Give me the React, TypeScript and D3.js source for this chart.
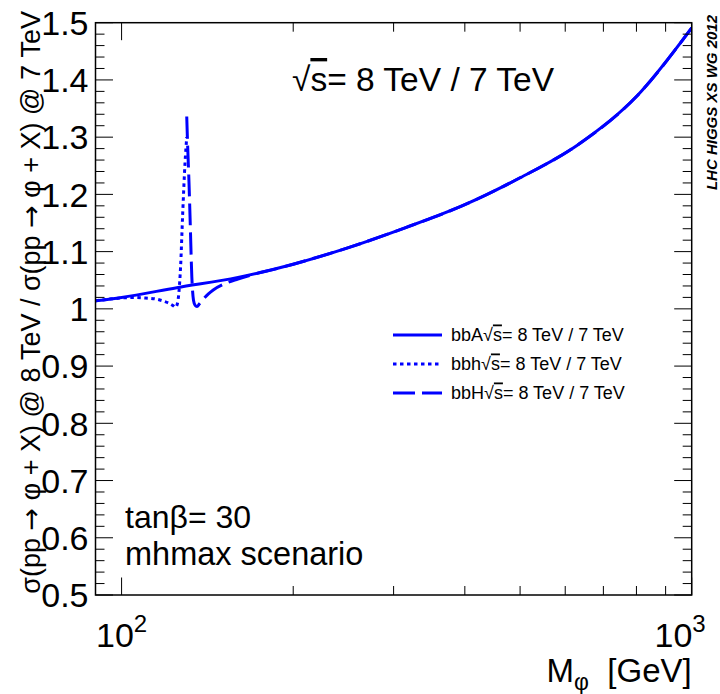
import React from "react";
import * as d3 from "d3";

// bbA (solid)
const massA = [90, 100, 125, 160, 200, 250, 315, 400, 500, 630, 800, 1000];
const ratioA = [1.014, 1.020, 1.037, 1.055, 1.078, 1.107, 1.142, 1.182, 1.229, 1.286, 1.371, 1.491];

// bbh (dotted)
const massh = [90, 95, 100, 105, 110, 115, 118, 121, 123, 124.3, 125.2, 126, 126.9, 128, 129.2, 130.1];
const ratioh = [1.014, 1.017, 1.019, 1.020, 1.019, 1.017, 1.014, 1.010, 1.006, 1.003, 1.008, 1.027, 1.073, 1.167, 1.255, 1.300];

// bbH (dashed)
const massH = [130.1, 130.6, 131.3, 131.9, 132.8, 133.7, 134.6, 135.6, 137, 139.4, 142, 144.8, 151, 160, 171.5, 185, 200, 250, 315, 400, 500, 630, 800, 1000];
const ratioH = [1.336, 1.283, 1.22, 1.155, 1.056, 1.015, 1.006, 1.004, 1.009, 1.018, 1.026, 1.033, 1.043, 1.052, 1.061, 1.069, 1.078, 1.107, 1.142, 1.182, 1.229, 1.286, 1.371, 1.491];

const yTickLabels = ["0.5", "0.6", "0.7", "0.8", "0.9", "1", "1.1", "1.2", "1.3", "1.4", "1.5"];
const xMajorTicks = [100, 1000];
const xMajorExp = ["2", "3"];
const xMinorTicks = [200, 300, 400, 500, 600, 700, 800, 900];

const legendNames = ["bbA", "bbh", "bbH"];

const W = 720;
const H = 694;
const L = 95.5, R = 691.7, T = 22.7, B = 595;
const FONT = "'Liberation Sans', Arial, Helvetica, sans-serif";
const SYM = "'DejaVu Sans', sans-serif";
const BLUE = "#0000ff";

export default function App() {
  const x = d3.scaleLog().domain([90, 1000]).range([L, R]);
  const y = d3.scaleLinear().domain([0.5, 1.5]).range([B, T]);

  const line = d3
    .line<[number, number]>()
    .x((d) => x(d[0]))
    .y((d) => y(d[1]))
    .curve(d3.curveMonotoneX);

  const series = [
    { name: legendNames[0], m: massA, r: ratioA, dash: "none" },
    { name: legendNames[1], m: massh, r: ratioh, dash: "3.5 3.5" },
    { name: legendNames[2], m: massH, r: ratioH, dash: "22 7" },
  ];

  const yMajor = d3.range(0, 11).map((i) => 0.5 + i * 0.1);
  const yMinor = d3.range(0, 51).map((i) => 0.5 + i * 0.02).filter((v, i) => i % 5 !== 0);

  const majLen = 17.5;
  const minLen = 9;

  return (
    <svg width={W} height={H} style={{ position: "absolute", left: 0, top: 0, background: "#fff" }} fontFamily={FONT}>
      <rect x={0} y={0} width={W} height={H} fill="#fff" />
      <defs>
        <clipPath id="plotclip">
          <rect x={L} y={T} width={R - L} height={B - T} />
        </clipPath>
      </defs>

      {/* curves */}
      <g clipPath="url(#plotclip)">
        {series.map((s) => (
          <path
            key={s.name}
            d={line(s.m.map((m, i) => [m, s.r[i]] as [number, number])) || ""}
            fill="none"
            stroke={BLUE}
            strokeWidth={3}
            strokeDasharray={s.dash}
          />
        ))}
      </g>

      {/* ticks */}
      <g stroke="#000" strokeWidth={1}>
        {yMajor.map((v) => (
          <g key={"ym" + v}>
            <line x1={L} x2={L + majLen} y1={y(v)} y2={y(v)} />
            <line x1={R} x2={R - majLen} y1={y(v)} y2={y(v)} />
          </g>
        ))}
        {yMinor.map((v) => (
          <g key={"yn" + v}>
            <line x1={L} x2={L + minLen} y1={y(v)} y2={y(v)} />
            <line x1={R} x2={R - minLen} y1={y(v)} y2={y(v)} />
          </g>
        ))}
        {xMajorTicks.map((v) => (
          <g key={"xm" + v}>
            <line x1={x(v)} x2={x(v)} y1={B} y2={B - majLen} />
            <line x1={x(v)} x2={x(v)} y1={T} y2={T + majLen} />
          </g>
        ))}
        {xMinorTicks.map((v) => (
          <g key={"xn" + v}>
            <line x1={x(v)} x2={x(v)} y1={B} y2={B - minLen} />
            <line x1={x(v)} x2={x(v)} y1={T} y2={T + minLen} />
          </g>
        ))}
      </g>

      {/* frame */}
      <rect x={L} y={T} width={R - L} height={B - T} fill="none" stroke="#000" strokeWidth={1.5} />

      {/* y tick labels */}
      {yMajor.map((v, i) => (
        <text key={"yl" + i} x={L - 7} y={y(v)} dy="0.36em" textAnchor="end" fontSize={34} fill="#000">
          {yTickLabels[i]}
        </text>
      ))}

      {/* x tick labels */}
      {xMajorTicks.map((v, i) => (
        <text
          key={"xl" + i}
          x={i === xMajorTicks.length - 1 ? Math.min(x(v) + 14, 707) : x(v)}
          y={647}
          textAnchor={i === xMajorTicks.length - 1 ? "end" : "middle"}
          fontSize={34}
          fill="#000"
        >
          10
          <tspan dy={-15} fontSize={24}>
            {xMajorExp[i]}
          </tspan>
        </text>
      ))}

      {/* axis titles */}
      <text x={R} y={682} textAnchor="end" fontSize={33} fill="#000">
        M<tspan dy={8} fontSize={23}>φ</tspan>
        <tspan dy={-8}>{"\u00a0\u00a0[GeV]"}</tspan>
      </text>
      <text
        transform={`translate(40, 11) rotate(-90)`}
        textAnchor="end"
        fontSize={27}
        fill="#000"
      >
        σ(pp <tspan fontFamily={SYM}>→</tspan> φ + X) @ 8 TeV / σ(pp <tspan fontFamily={SYM}>→</tspan> φ + X) @ 7 TeV
      </text>

      {/* annotations */}
      <text x={292} y={91} fontSize={33.5} fill="#000">
        √<tspan style={{ textDecoration: "overline" }}>s</tspan>= 8 TeV / 7 TeV
      </text>
      <text x={125} y={528} fontSize={32} fill="#000">
        tanβ= 30
      </text>
      <text x={125} y={564.5} fontSize={32.5} fill="#000">
        mhmax scenario
      </text>
      <text
        transform={`translate(717, 15) rotate(-90)`}
        textAnchor="end"
        fontSize={15}
        fontWeight="bold"
        fontStyle="italic"
        fill="#000"
      >
        LHC HIGGS XS WG 2012
      </text>

      {/* legend */}
      {series.map((s, i) => {
        const ly = 335 + i * 29;
        return (
          <g key={"lg" + s.name}>
            <line x1={393} x2={442} y1={ly} y2={ly} stroke={BLUE} strokeWidth={3} strokeDasharray={s.dash} />
            <text x={451} y={ly} dy="0.36em" fontSize={18} fill="#000">
              {s.name}√<tspan style={{ textDecoration: "overline" }}>s</tspan>= 8 TeV / 7 TeV
            </text>
          </g>
        );
      })}
    </svg>
  );
}
